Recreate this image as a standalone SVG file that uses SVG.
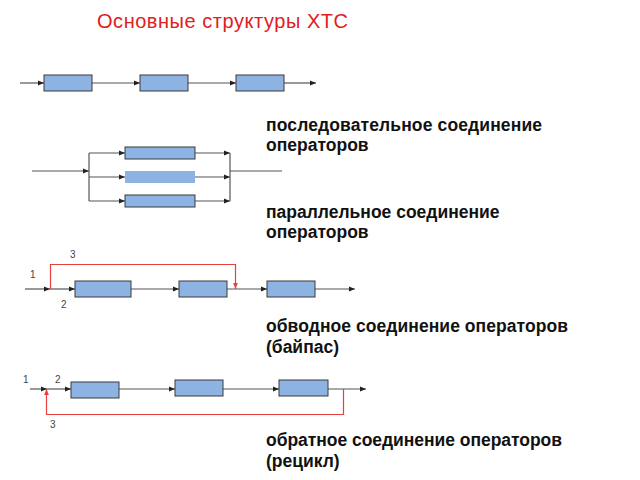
<svg xmlns="http://www.w3.org/2000/svg" width="640" height="480" viewBox="0 0 640 480">
<style>
.box{fill:#8db3e2;stroke:#3a3a3a;stroke-width:1}
.ln{fill:none;stroke:#555;stroke-width:1.2}
.red{fill:none;stroke:#e8403e;stroke-width:1.2}
.lbl{font-family:"Liberation Sans",Arial,sans-serif;font-size:17.5px;font-weight:bold;fill:#111}
.num{font-family:"Liberation Sans",Arial,sans-serif;font-size:10px;fill:#444}
.title{font-family:"Liberation Sans",Arial,sans-serif;font-size:20px;fill:#e02020}
</style>
<defs>
<marker id="a" viewBox="0 0 10 10" refX="10" refY="5" markerWidth="6" markerHeight="6" orient="auto" markerUnits="userSpaceOnUse"><path d="M0,1 L10,5 L0,9 z" fill="#222"/></marker>
<marker id="ar" viewBox="0 0 10 10" refX="10" refY="5" markerWidth="6" markerHeight="6" orient="auto" markerUnits="userSpaceOnUse"><path d="M0,1 L10,5 L0,9 z" fill="#e8403e"/></marker>
</defs>
<text class="title" x="97" y="28" textLength="251" lengthAdjust="spacing">Основные структуры ХТС</text>
<g id="connectors">
<line class="ln" x1="20" y1="83" x2="44" y2="83" marker-end="url(#a)"/>
<line class="ln" x1="92" y1="83" x2="140" y2="83" marker-end="url(#a)"/>
<line class="ln" x1="188" y1="83" x2="236" y2="83" marker-end="url(#a)"/>
<line class="ln" x1="284" y1="83" x2="316" y2="83" marker-end="url(#a)"/>
<line class="ln" x1="32" y1="171" x2="89" y2="171" marker-end="url(#a)"/>
<line class="ln" x1="89" y1="153" x2="89" y2="201"/>
<line class="ln" x1="89" y1="153" x2="125" y2="153" marker-end="url(#a)"/>
<line class="ln" x1="89" y1="177" x2="125" y2="177" marker-end="url(#a)"/>
<line class="ln" x1="89" y1="201" x2="125" y2="201" marker-end="url(#a)"/>
<line class="ln" x1="195" y1="153" x2="230" y2="153" marker-end="url(#a)"/>
<line class="ln" x1="195" y1="177" x2="230" y2="177" marker-end="url(#a)"/>
<line class="ln" x1="195" y1="201" x2="230" y2="201" marker-end="url(#a)"/>
<line class="ln" x1="230" y1="153" x2="230" y2="201"/>
<line class="ln" x1="230" y1="171" x2="282" y2="171"/>
<line class="ln" x1="25" y1="289" x2="50" y2="289" marker-end="url(#a)"/>
<line class="ln" x1="50" y1="289" x2="75" y2="289" marker-end="url(#a)"/>
<line class="ln" x1="131" y1="289" x2="179" y2="289" marker-end="url(#a)"/>
<line class="ln" x1="227" y1="289" x2="267" y2="289" marker-end="url(#a)"/>
<line class="ln" x1="315" y1="289" x2="355" y2="289" marker-end="url(#a)"/>
<polyline class="red" points="50.5,289 50.5,264.5 235.5,264.5 235.5,289" marker-end="url(#ar)"/>
<line class="ln" x1="30" y1="389" x2="47" y2="389" marker-end="url(#a)"/>
<line class="ln" x1="47" y1="389" x2="71" y2="389" marker-end="url(#a)"/>
<line class="ln" x1="119" y1="389" x2="175" y2="389" marker-end="url(#a)"/>
<line class="ln" x1="223" y1="389" x2="279" y2="389" marker-end="url(#a)"/>
<line class="ln" x1="328" y1="389" x2="366" y2="389" marker-end="url(#a)"/>
<polyline class="red" points="343.5,389 343.5,414.5 46.5,414.5 46.5,389" marker-end="url(#ar)"/>
</g>
<g id="series">
<rect class="box" x="44" y="75" width="48" height="16"/>
<rect class="box" x="140" y="75" width="48" height="16"/>
<rect class="box" x="236" y="75" width="48" height="16"/>
</g>
<g id="parallel">
<rect class="box" x="125" y="147" width="70" height="12"/>
<rect class="box" x="125" y="171" width="70" height="12" style="stroke:none"/>
<rect class="box" x="125" y="195" width="70" height="12"/>
</g>
<g id="bypass">
<rect class="box" x="75" y="281" width="56" height="16"/>
<rect class="box" x="179" y="281" width="48" height="16"/>
<rect class="box" x="267" y="281" width="48" height="16"/>
<text class="num" x="30" y="278">1</text>
<text class="num" x="70" y="258">3</text>
<text class="num" x="61" y="308">2</text>
</g>
<g id="recycle">
<rect class="box" x="71" y="382" width="48" height="16"/>
<rect class="box" x="175" y="380" width="48" height="16"/>
<rect class="box" x="279" y="380" width="49" height="16"/>
<text class="num" x="23" y="383">1</text>
<text class="num" x="55" y="383">2</text>
<text class="num" x="50" y="428">3</text>
</g>
<g id="labels">
<text class="lbl" x="266" y="131" textLength="276" lengthAdjust="spacing">последовательное соединение</text>
<text class="lbl" x="266" y="151">операторов</text>
<text class="lbl" x="266" y="218">параллельное соединение</text>
<text class="lbl" x="266" y="238">операторов</text>
<text class="lbl" x="266" y="332" textLength="302" lengthAdjust="spacing">обводное соединение операторов</text>
<text class="lbl" x="266" y="353">(байпас)</text>
<text class="lbl" x="266" y="446" textLength="296" lengthAdjust="spacing">обратное соединение операторов</text>
<text class="lbl" x="266" y="467">(рецикл)</text>
</g>
</svg>
